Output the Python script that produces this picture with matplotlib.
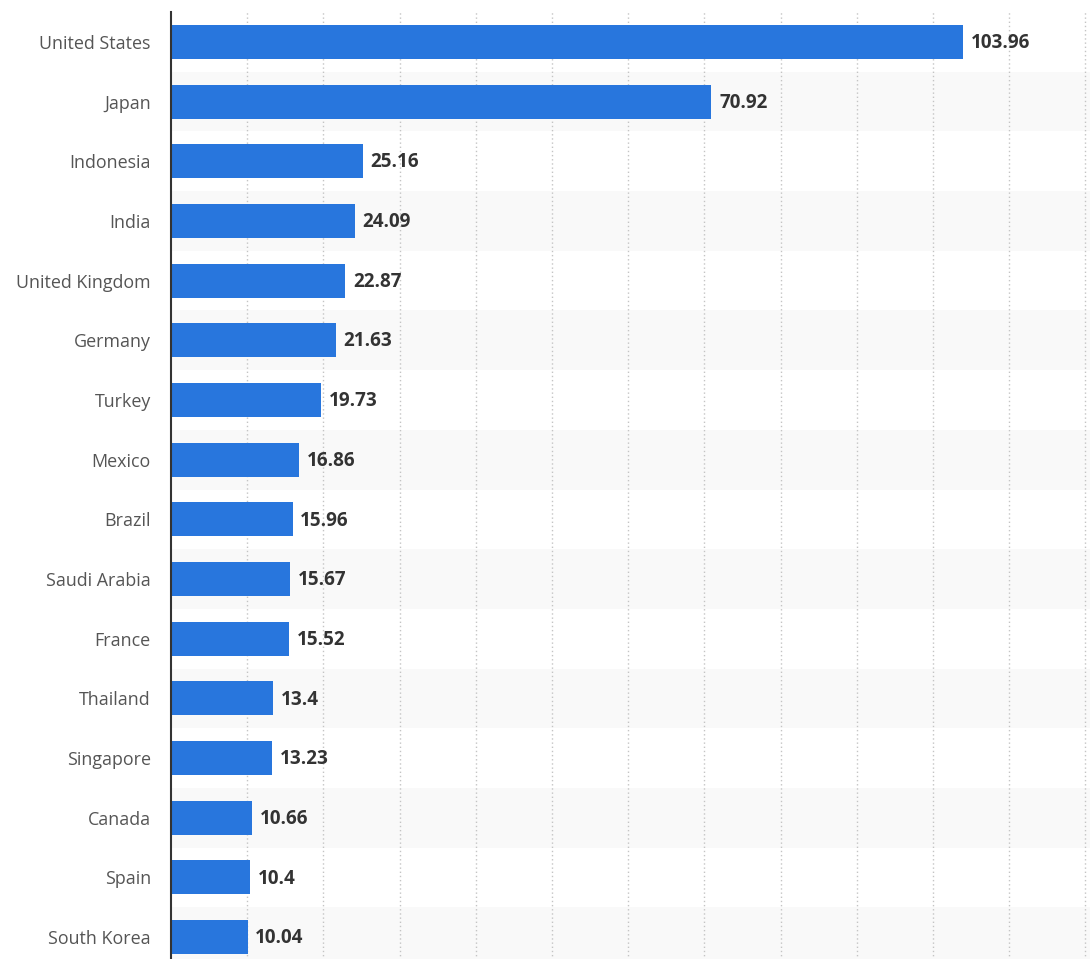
import matplotlib
import numpy as np
from matplotlib import pyplot as plt

matplotlib.use("Agg")

countries = [
    "United States", "Japan", "Indonesia", "India", "United Kingdom",
    "Germany", "Turkey", "Mexico", "Brazil", "Saudi Arabia", "France",
    "Thailand", "Singapore", "Canada", "Spain", "South Korea",
]
values = [
    103.96, 70.92, 25.16, 24.09, 22.87, 21.63, 19.73, 16.86,
    15.96, 15.67, 15.52, 13.4, 13.23, 10.66, 10.4, 10.04,
]
value_labels = [
    "103.96", "70.92", "25.16", "24.09", "22.87", "21.63", "19.73", "16.86",
    "15.96", "15.67", "15.52", "13.4", "13.23", "10.66", "10.4", "10.04",
]

BAR_COLOR = "#2876dd"


def main() -> None:
    plt.rcParams["font.family"] = ["Open Sans", "DejaVu Sans"]
    fig = plt.figure(figsize=(10.9, 9.59), dpi=100)
    ax = fig.add_axes([171 / 1090, 1 - 967 / 959, 1 - 171 / 1090, 955 / 959])

    y = np.arange(len(countries))
    for i in y:
        if i % 2 == 1:
            ax.axhspan(i - 0.5, i + 0.5, color="#f9f9f9", zorder=0, lw=0)

    ax.barh(y, values, height=0.57, color=BAR_COLOR, zorder=3)
    for yi, v, lab in zip(y, values, value_labels):
        ax.text(v + 1.0, yi + 0.02, lab, va="center", ha="left", fontsize=13.6,
                fontweight="bold", color="#333333", zorder=4)

    ax.set_xlim(0, 120.6)
    ax.set_ylim(len(countries) - 0.5, -0.5)
    ax.set_xticks(np.arange(10, 121, 10))
    ax.xaxis.grid(True, linestyle=(0, (1, 2)), color="#c4c4c4", linewidth=1.0, zorder=1)
    ax.tick_params(axis="x", length=0, labelbottom=False)
    ax.tick_params(axis="y", length=0, pad=14.5, labelsize=12.9, labelcolor="#555555")
    ax.set_yticks(y)
    ax.set_yticklabels(countries)

    for side in ["top", "right", "bottom"]:
        ax.spines[side].set_visible(False)
    ax.spines["left"].set_color("#333333")
    ax.spines["left"].set_linewidth(1.5)
    ax.spines["left"].set_zorder(5)

    fig.savefig("out.png", dpi=100)


if __name__ == "__main__":
    main()
